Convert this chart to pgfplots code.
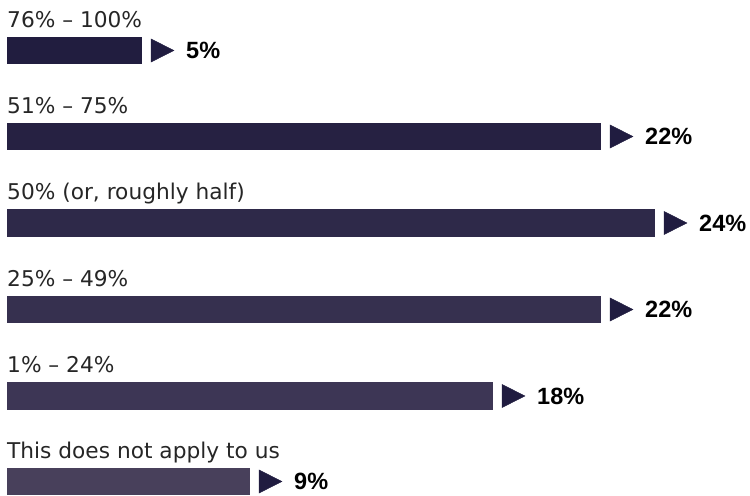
\documentclass[border=0pt]{standalone}
\usepackage{pgfplots}
\pgfplotsset{compat=1.18}
\usepackage{fontspec}
\setmainfont{Liberation Sans}
\newfontfamily\labfont{DejaVu Sans}
\definecolor{c1}{HTML}{211D3F}
\definecolor{c2}{HTML}{262142}
\definecolor{c3}{HTML}{2E2949}
\definecolor{c4}{HTML}{36304F}
\definecolor{c5}{HTML}{3D3655}
\definecolor{c6}{HTML}{48405B}
\definecolor{tri}{HTML}{201C40}
\definecolor{labtxt}{HTML}{262626}
\begin{document}
\begin{tikzpicture}
\begin{axis}[
  x=27bp, y=1bp,
  xmin=-0.2593, xmax=27.5185,
  ymin=0, ymax=495, y dir=reverse,
  hide axis, clip=false,
  /pgf/number format/assume math mode=true,
  barstyle/.style={xbar, bar width=27.5, bar shift=0pt, draw=none,
    nodes near coords={\pgfmathprintnumber{\pgfplotspointmeta}\%},
    point meta=x,
    nodes near coords style={anchor=west, xshift=44bp, inner sep=0pt,
      font=\fontsize{23.5bp}{28bp}\selectfont\bfseries, text=black}},
]
\path (rel axis cs:0,0) rectangle (rel axis cs:1,1);
\addplot[barstyle, fill=c1] coordinates {(5,50.5)};
\addplot[barstyle, fill=c2] coordinates {(22,136.5)};
\addplot[barstyle, fill=c3] coordinates {(24,223)};
\addplot[barstyle, fill=c4] coordinates {(22,309.5)};
\addplot[barstyle, fill=c5] coordinates {(18,396)};
\addplot[barstyle, fill=c6] coordinates {(9,481.5)};
% triangles
\addplot[only marks, mark=triangle*, mark size=13.3bp, color=tri,
  mark options={xshift=16.7bp, rotate=-90, yscale=1.15, fill=tri, draw=none}]
  coordinates {(5,50.5) (22,136.5) (24,223) (22,309.5) (18,396) (9,481.5)};
% category labels
\addplot[draw=none, mark=none, nodes near coords, point meta=explicit symbolic,
  nodes near coords style={anchor=base west, yshift=23bp, inner sep=0pt,
    font=\labfont\fontsize{21.7bp}{26bp}\selectfont, text=labtxt}]
  coordinates {
    (0,50.5) [76\% – 100\%]
    (0,136.5) [51\% – 75\%]
    (0,223) [50\% (or, roughly half)]
    (0,309.5) [25\% – 49\%]
    (0,396) [1\% – 24\%]
    (0,481.5) [This does not apply to us]
  };
\end{axis}
\end{tikzpicture}
\end{document}
